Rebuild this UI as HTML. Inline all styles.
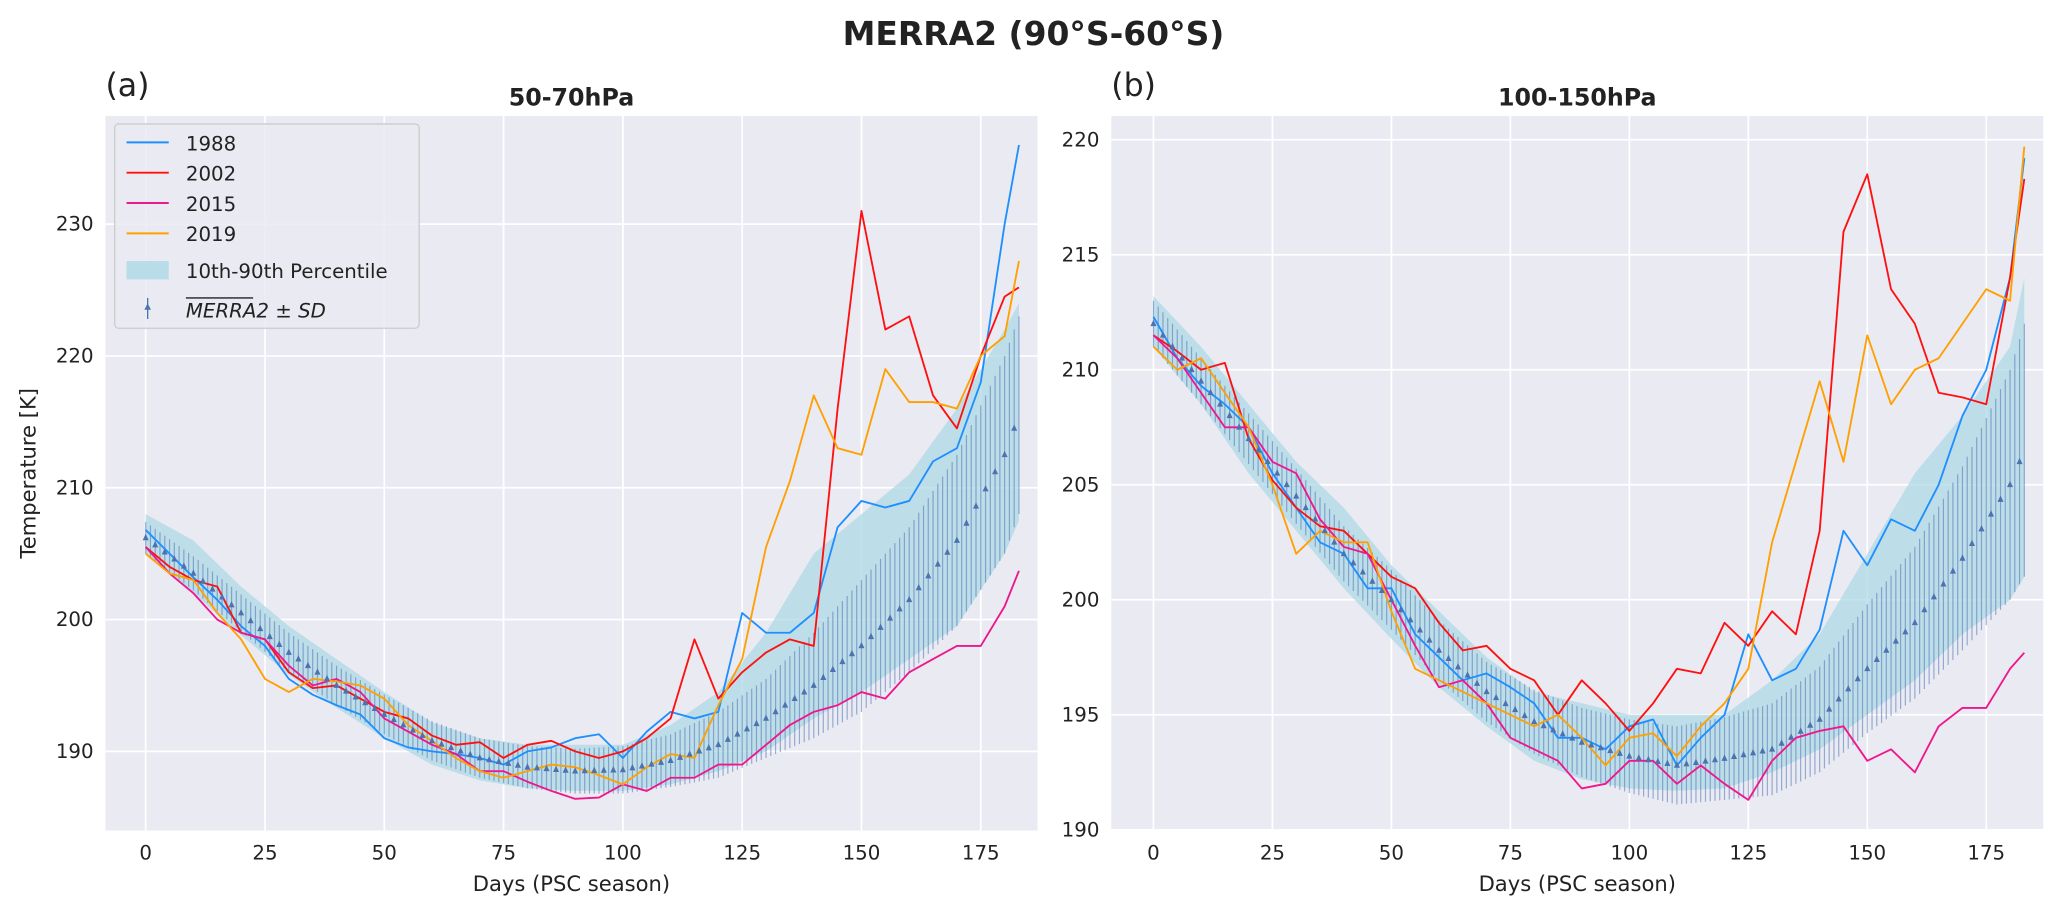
<!DOCTYPE html>
<html><head><meta charset="utf-8"><style>
html,body{margin:0;padding:0;background:#fff}
svg{display:block;font-family:"DejaVu Sans","Liberation Sans",sans-serif}
</style></head><body>
<svg id="fig" width="2067" height="913" viewBox="0 0 1568 692.6" xmlns="http://www.w3.org/2000/svg">
<text x="784" y="34" text-anchor="middle" font-size="25" font-weight="bold" fill="#222">MERRA2 (90°S-60°S)</text>
<g id="pa"></g>
<g id="pb"></g>
</svg>
<script>
const days = [0,5,10,15,20,25,30,35,40,45,50,55,60,65,70,75,80,85,90,95,100,105,110,115,120,125,130,135,140,145,150,155,160,165,170,175,180,183];
const statDays = [0,10,20,30,40,50,60,70,80,90,100,110,120,130,140,150,160,170,180,183];

const a1988 = [206.8,205,203.2,201.5,199.5,198,195.5,194.3,193.5,192.8,191,190.3,190,189.8,189.5,189,190,190.3,191,191.3,189.5,191.5,193,192.5,193,200.5,199,199,200.5,207,209,208.5,209,212,213,218,230,236];
const a2002 = [205.5,204,203,202.5,199,198.5,196,194.8,195,194,193,192.5,191.2,190.5,190.7,189.5,190.5,190.8,190,189.5,190,191,192.5,198.5,194,196,197.5,198.5,198,216,231,222,223,217,214.5,220,224.5,225.2];
const a2015 = [205.5,203.5,202,200,199,198.5,196.5,195,195.5,194.5,192.5,191.5,190.5,189.8,188.5,188.5,187.7,187,186.4,186.5,187.5,187,188,188,189,189,190.5,192,193,193.5,194.5,194,196,197,198,198,201,203.7];
const a2019 = [205,203.5,203,200.5,198.5,195.5,194.5,195.5,195.3,195,194,192,190.8,189.5,188.5,188,188.5,189,188.8,188.2,187.5,188.8,189.8,189.5,193.5,197,205.5,210.5,217,213,212.5,219,216.5,216.5,216,220,221.5,227.2];
const aMean = [206.2,203.5,200.5,197.5,195,192.8,190.8,189.5,188.8,188.5,188.6,189.3,190.5,192.5,195,198,201.5,206,212.5,215.5];
const aSD = [1.2,1.3,1.4,1.5,1.5,1.5,1.5,1.5,1.6,1.7,1.8,2,2.5,3,4,5,5.5,6.5,7.5,7.5];
const aP10 = [205,202,198.8,195.8,193.3,191,189,187.8,187.2,187,187,187.5,188.5,190,192.5,194.5,197,199.5,205,207.5];
const aP90 = [208,206,202.5,199.5,197,194.5,192.2,191,190.5,190.5,190.5,192,194.5,199,205,208,211,216,222,224];

const b1988 = [212.3,210.5,209.3,208.5,207.5,205.5,204,202.5,202,200.5,200.5,198.5,197.5,196.5,196.8,196.2,195.5,194,194,193.5,194.5,194.8,192.8,194,195,198.5,196.5,197,198.7,203,201.5,203.5,203,205,208,210,214,219.2];
const b2002 = [211.5,210.8,210,210.3,207,205.2,204,203.2,203,202,201,200.5,199,197.8,198,197,196.5,195,196.5,195.5,194.3,195.5,197,196.8,199,198,199.5,198.5,203,216,218.5,213.5,212,209,208.8,208.5,214,218.3];
const b2015 = [211.5,210.5,209,207.5,207.5,206,205.5,203.5,202.3,202,200,198,196.2,196.5,195.5,194,193.5,193,191.8,192,193,193,192,192.8,192,191.3,193,194,194.3,194.5,193,193.5,192.5,194.5,195.3,195.3,197,197.7];
const b2019 = [211,210,210.5,209,207.5,205,202,203,202.5,202.5,199.5,197,196.5,196,195.5,195,194.5,195,194,192.8,194,194.2,193.2,194.5,195.5,197,202.5,206,209.5,206,211.5,208.5,210,210.5,212,213.5,213,219.7];
const bMean = [212,209.5,207,204.5,202,200,197.8,196,194.7,193.8,193.2,192.8,193.1,193.5,194.8,197,199,201.8,205,206.5];
const bSD = [1,1,1.1,1.2,1.2,1.3,1.3,1.3,1.4,1.5,1.6,1.7,1.8,2,2.3,2.8,3.3,4,5,5.5];
const bP10 = [211,208.5,205.5,203,200.5,198.3,196.2,194.5,193,192.2,191.8,191.7,191.8,192.5,193.5,195,196.5,198.5,200,201];
const bP90 = [213.2,211,208.5,206,204,201.5,199.5,197.5,196,195.5,195,195,195,196.5,198.5,202,205.5,208,211,214];

const xTicks = [0,25,50,75,100,125,150,175];
const aYTicks = [190,200,210,220,230];
const bYTicks = [190,195,200,205,210,215,220];
const years = ['1988','2002','2015','2019'];
const colors = ['#1E8FFF','#FF1010','#F0168C','#FFA000'];

const NS='http://www.w3.org/2000/svg';
function mk(p,t,at){const e=document.createElementNS(NS,t);for(const k in at)e.setAttribute(k,at[k]);p.appendChild(e);return e;}
function interp(xs,ys,x){for(let i=0;i<xs.length-1;i++){if(x>=xs[i]&&x<=xs[i+1]){const f=(x-xs[i])/(xs[i+1]-xs[i]);return ys[i]+f*(ys[i+1]-ys[i]);}}return ys[ys.length-1];}

function panel(g,cfg){
  const X=d=>cfg.x0+cfg.px*d;
  const Y=t=>cfg.yRef-(t-cfg.tRef)*cfg.py;
  const bg=mk(g,'rect',{x:cfg.L,y:cfg.T,width:cfg.R-cfg.L,height:cfg.B-cfg.T,fill:'#EAEAF2'});
  
  
  xTicks.forEach(d=>{
    const l=mk(g,'line',{x1:X(d),x2:X(d),y1:cfg.T,y2:cfg.B,stroke:'#fff','stroke-width':1.3});
    
    
    const t=mk(g,'text',{x:X(d),y:cfg.B+22,'text-anchor':'middle','font-size':15,fill:'#222'});
    t.textContent=d;
    
    
  });
  cfg.yTicks.forEach(v=>{
    const l=mk(g,'line',{x1:cfg.L,x2:cfg.R,y1:Y(v),y2:Y(v),stroke:'#fff','stroke-width':1.3});
    
    
    const t=mk(g,'text',{x:cfg.L-9,y:Y(v)+5,'text-anchor':'end','font-size':15,fill:'#222'});
    t.textContent=v;
    
    
  });
  let d='';
  statDays.forEach((x,i)=>{d+=(i?'L':'M')+X(x)+','+Y(cfg.p90[i]);});
  for(let i=statDays.length-1;i>=0;i--)d+='L'+X(statDays[i])+','+Y(cfg.p10[i]);
  const band=mk(g,'path',{d:d+'Z',fill:'#ADD8E6','fill-opacity':0.75});
  
  
  const last=statDays[statDays.length-1];
  for(let day=0;day<=last;day++){
    const m=interp(statDays,cfg.mean,day), s=interp(statDays,cfg.sd,day);
    const e=mk(g,'line',{x1:X(day),x2:X(day),y1:Y(m-s),y2:Y(m+s),stroke:'#4C72B0','stroke-opacity':0.55,'stroke-width':0.9});
    
    
  }
  [cfg.s1988,cfg.s2002,cfg.s2015,cfg.s2019].forEach((arr,k)=>{
    const p=mk(g,'path',{d:arr.map((v,i)=>(i?'L':'M')+X(days[i])+','+Y(v)).join(''),fill:'none',stroke:colors[k],'stroke-width':1.4,'stroke-linejoin':'round'});
    
    
  });
  for(let day=0;day<=last;day+=2){
    const m=interp(statDays,cfg.mean,day);
    const cx=X(day),cy=Y(m);
    const tr=mk(g,'path',{d:`M${cx},${cy-3}L${cx+2.3},${cy+1.8}L${cx-2.3},${cy+1.8}Z`,fill:'#4C72B0'});
    
    
  }
  const t1=mk(g,'text',{x:(cfg.L+cfg.R)/2,y:cfg.B+46,'text-anchor':'middle','font-size':16,fill:'#222'});
  t1.textContent='Days (PSC season)';
  
  
  const t2=mk(g,'text',{x:(cfg.L+cfg.R)/2,y:80,'text-anchor':'middle','font-size':18,'font-weight':'bold',fill:'#222'});
  t2.textContent=cfg.title;
  
  
  const t3=mk(g,'text',{x:cfg.L,y:73,'font-size':24,fill:'#222'});
  t3.textContent=cfg.tag;
  
  
}

const pa=document.getElementById('pa'), pb=document.getElementById('pb');
panel(pa,{L:80,R:787,T:88,B:630,x0:110.5,px:3.62,yRef:570,tRef:190,py:10,yTicks:aYTicks,
  mean:aMean,sd:aSD,p10:aP10,p90:aP90,s1988:a1988,s2002:a2002,s2015:a2015,s2019:a2019,title:'50-70hPa',tag:'(a)'});
panel(pb,{L:843,R:1550,T:88,B:630,x0:875,px:3.61,yRef:455,tRef:200,py:17.45,yTicks:bYTicks,
  mean:bMean,sd:bSD,p10:bP10,p90:bP90,s1988:b1988,s2002:b2002,s2015:b2015,s2019:b2019,title:'100-150hPa',tag:'(b)'});

const yl=mk(pa,'text',{x:0,y:0,transform:'translate(27,359) rotate(-90)','text-anchor':'middle','font-size':16,fill:'#222'});
yl.textContent='Temperature [K]';



const lg=mk(pa,'g',{});


mk(lg,'rect',{x:87,y:94,width:231,height:155,rx:3,fill:'#EAEAF2','fill-opacity':0.85,stroke:'#ccc','stroke-width':1});
years.forEach((yr,k)=>{
  const yy=109+k*23;
  const ln=mk(lg,'line',{x1:96,x2:128,y1:yy-1,y2:yy-1,stroke:colors[k],'stroke-width':1.5});
  
  
  const t=mk(lg,'text',{x:141,y:yy+5,'font-size':15,fill:'#222'});
  t.textContent=yr;
  
  
});
const pr=mk(lg,'rect',{x:96,y:198,width:32,height:14,fill:'#ADD8E6','fill-opacity':0.8});


const pt=mk(lg,'text',{x:141,y:211,'font-size':15,fill:'#222'});
pt.textContent='10th-90th Percentile';


mk(lg,'line',{x1:112,x2:112,y1:226,y2:242,stroke:'#4C72B0','stroke-width':1});
mk(lg,'path',{d:'M112,230L114.5,235L109.5,235Z',fill:'#4C72B0'});
mk(lg,'line',{x1:141,x2:192,y1:226,y2:226,stroke:'#222','stroke-width':1});
const mt=mk(lg,'text',{x:141,y:241,'font-size':15,'font-style':'italic',fill:'#222'});
mt.textContent='MERRA2 ± SD';


</script>
</body></html>
